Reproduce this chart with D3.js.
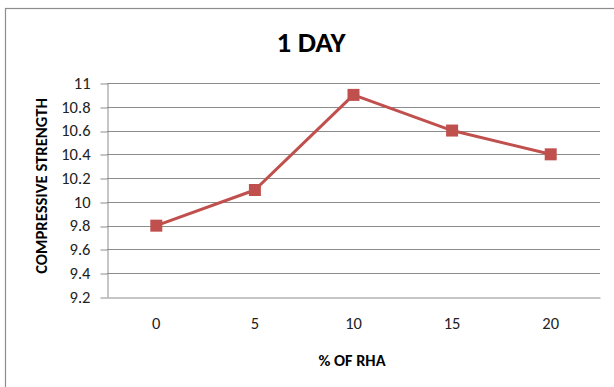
<!DOCTYPE html>
<html>
<head>
<meta charset="utf-8">
<script src="https://cdn.jsdelivr.net/npm/d3@7"></script>
<style>
  html, body { margin: 0; padding: 0; background: #fff; }
  svg { display: block; }
  text { font-family: Carlito, "Liberation Sans Narrow", "Open Sans", sans-serif; }
</style>
</head>
<body>
<script>
// RHA replacement levels and 1-day compressive strength
const categories = ["0", "5", "10", "15", "20"];
const strength = [9.8, 10.1, 10.9, 10.6, 10.4];
const yTicks = [9.2, 9.4, 9.6, 9.8, 10, 10.2, 10.4, 10.6, 10.8, 11];

const W = 614, H = 387;
const plot = { left: 107, right: 600, top: 83, bottom: 297 };
const lineColor = "#C0504D";
const gridColor = "#8c8c8c";

const svg = d3.select("body").append("svg")
  .attr("width", W).attr("height", H);

// chart frame
svg.append("rect")
  .attr("x", 5.5).attr("y", 8.5)
  .attr("width", W + 10).attr("height", H + 10)
  .attr("fill", "#fff").attr("stroke", gridColor).attr("stroke-width", 1.2);

const x = d3.scaleBand().domain(categories).range([plot.left, plot.right]);
const y = d3.scaleLinear().domain([9.2, 11]).range([plot.bottom, plot.top]);
const snap = v => Math.round(v) + 0.5;

// horizontal gridlines
svg.append("g")
  .selectAll("line").data(yTicks.slice(1)).join("line")
  .attr("x1", plot.left).attr("x2", plot.right)
  .attr("y1", d => snap(y(d))).attr("y2", d => snap(y(d)))
  .attr("stroke", gridColor).attr("stroke-width", 1);

// y axis
const yAxis = svg.append("g")
  .attr("transform", `translate(${plot.left + 0.5},0)`)
  .call(d3.axisLeft(y).tickValues(yTicks).tickSize(7).tickSizeOuter(0).tickPadding(10)
    .tickFormat(d => d3.format("")(+d.toFixed(1))));
yAxis.select(".domain").attr("stroke", gridColor);
yAxis.selectAll(".tick line").attr("stroke", gridColor)
  .attr("transform", d => `translate(0,${snap(y(d)) - y(d)})`);
yAxis.selectAll(".tick text")
  .attr("fill", "#222").style("font-size", "16.5px");

// x axis
const xAxis = svg.append("g")
  .attr("transform", `translate(0,${plot.bottom + 0.5})`)
  .call(d3.axisBottom(x).tickSize(0).tickSizeOuter(0).tickPadding(20));
xAxis.select(".domain").attr("stroke", gridColor);
xAxis.selectAll(".tick text")
  .attr("fill", "#222").style("font-size", "16.5px");

// series line
const cx = (d, i) => x(categories[i]) + x.bandwidth() / 2;
const line = d3.line().x(cx).y(d => y(d));

svg.append("path")
  .datum(strength)
  .attr("d", line)
  .attr("fill", "none")
  .attr("stroke", lineColor)
  .attr("stroke-width", 3)
  .attr("stroke-linejoin", "round");

// square markers
const ms = 12;
svg.append("g")
  .selectAll("rect").data(strength).join("rect")
  .attr("x", (d, i) => cx(d, i) - ms / 2)
  .attr("y", d => y(d) - ms / 2)
  .attr("width", ms).attr("height", ms)
  .attr("fill", lineColor);

// title
svg.append("text")
  .attr("x", 311).attr("y", 52)
  .attr("text-anchor", "middle")
  .style("font-size", "29px").style("font-weight", "bold")
  .attr("fill", "#000")
  .text("1 DAY");

// axis titles
svg.append("text")
  .attr("x", 352).attr("y", 366)
  .attr("text-anchor", "middle")
  .style("font-size", "16.3px").style("font-weight", "bold")
  .attr("fill", "#000")
  .text("% OF RHA");

svg.append("text")
  .attr("transform", `translate(47,186) rotate(-90)`)
  .attr("text-anchor", "middle")
  .style("font-size", "16.6px").style("font-weight", "bold")
  .attr("fill", "#000")
  .text("COMPRESSIVE STRENGTH");
</script>
</body>
</html>
